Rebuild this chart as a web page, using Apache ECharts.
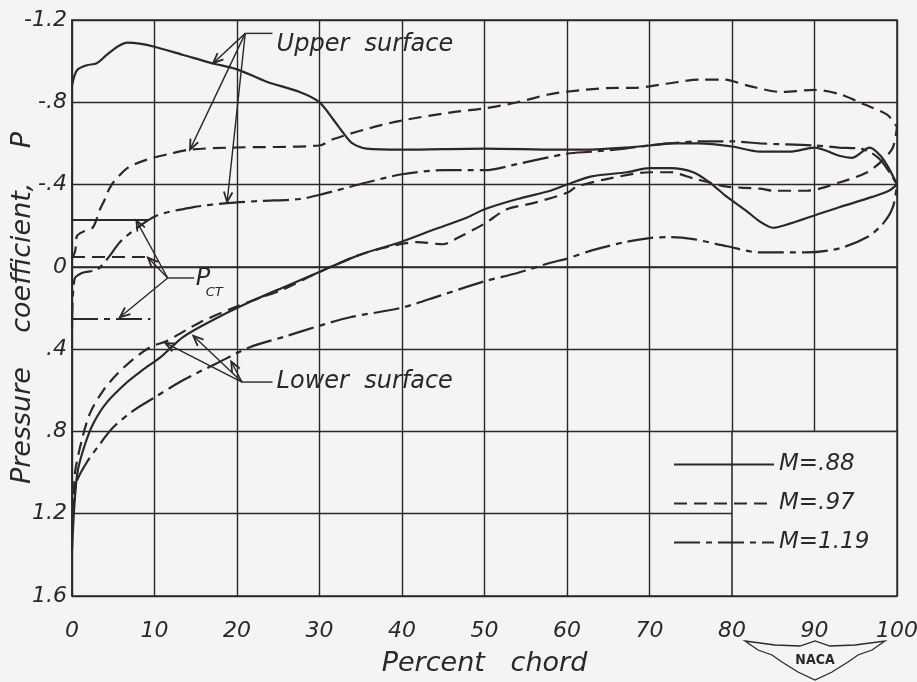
<!DOCTYPE html>
<html lang="en">
<head>
<meta charset="UTF-8" />
<title>Pressure coefficient vs percent chord</title>
<script src="https://cdn.jsdelivr.net/npm/echarts/dist/echarts.min.js"></script>
<style>
  html, body { margin: 0; padding: 0; background: #f4f4f3; }
  #chart { width: 917px; height: 682px; }
</style>
</head>
<body>
<div id="chart"></div>
<script>
const ink = '#2d2727';
const paper = '#f4f4f3';
const font = '"DejaVu Sans", "Liberation Sans", sans-serif';

// axis ticks
const yTicks = [-1.2, -0.8, -0.4, 0, 0.4, 0.8, 1.2, 1.6];
const yTickLabels = ['-1.2', '-.8', '-.4', '0', '.4', '.8', '1.2', '1.6'];
const mach = ['M=.88', 'M=.97', 'M=1.19'];

// M = .88 (solid)
const upper88 = [[0,-0.88],[0.3,-0.93],[0.7,-0.96],[1.8,-0.98],[3,-0.99],[4.2,-1.03],[5.5,-1.07],[6.7,-1.09],[8.2,-1.085],[10,-1.07],[13.5,-1.03],[17,-0.99],[20,-0.96],[23.6,-0.9],[27.6,-0.85],[30,-0.8],[31.6,-0.72],[32.9,-0.65],[34,-0.6],[35.7,-0.575],[40,-0.57],[50,-0.575],[59,-0.57],[63,-0.57],[67,-0.58],[70,-0.59],[72.5,-0.6],[76,-0.6],[80,-0.585],[83.4,-0.56],[87,-0.56],[90,-0.58],[93,-0.54],[94.5,-0.53],[96.7,-0.58],[98,-0.54],[99,-0.48],[100,-0.4]];
const lower88 = [[0,1.38],[0.3,1.15],[0.7,0.99],[1.6,0.86],[2.6,0.76],[4.2,0.66],[6.7,0.56],[8.6,0.5],[10.7,0.44],[13.5,0.34],[17.5,0.25],[21.6,0.17],[25.6,0.1],[29.7,0.03],[33.7,-0.04],[35.7,-0.07],[39.8,-0.12],[43.8,-0.18],[47.9,-0.24],[50,-0.28],[54,-0.33],[58,-0.37],[60,-0.4],[63,-0.44],[67.3,-0.46],[70,-0.48],[72.5,-0.48],[75.3,-0.46],[77.3,-0.41],[79.4,-0.34],[81.8,-0.27],[83.4,-0.22],[85,-0.19],[87,-0.21],[90,-0.25],[93,-0.29],[97,-0.34],[99,-0.37],[100,-0.4]];

// M = .97 (dashed)
const upper97 = [[0,-0.04],[0.4,-0.08],[0.6,-0.15],[1.3,-0.17],[2.5,-0.19],[3.4,-0.28],[4,-0.33],[4.4,-0.37],[5,-0.41],[6.7,-0.48],[9,-0.52],[11.9,-0.55],[14.3,-0.57],[19.5,-0.58],[30,-0.59],[31.6,-0.62],[35.7,-0.67],[39.8,-0.71],[45.8,-0.75],[50,-0.77],[54,-0.8],[58,-0.84],[62,-0.86],[66,-0.87],[68,-0.87],[72,-0.89],[76,-0.91],[79,-0.91],[82,-0.88],[86,-0.85],[90,-0.86],[93,-0.84],[96,-0.79],[98.8,-0.74],[100,-0.68]];
const lower97 = [[0,1.3],[0.2,1.12],[0.4,0.99],[1.2,0.84],[2.2,0.71],[3.8,0.6],[5.5,0.52],[7.4,0.45],[9.5,0.39],[11.5,0.36],[15.5,0.27],[19.5,0.2],[22.8,0.15],[25.6,0.11],[29.7,0.03],[33.7,-0.04],[35.7,-0.07],[39.8,-0.11],[41.8,-0.12],[45,-0.11],[46.7,-0.14],[50,-0.21],[52.7,-0.28],[55.9,-0.31],[60,-0.36],[61.2,-0.39],[65.2,-0.43],[70,-0.46],[72.5,-0.46],[75.3,-0.43],[77.3,-0.41],[79.4,-0.39],[83.4,-0.38],[85,-0.37],[89,-0.37],[93,-0.41],[96.4,-0.46],[98.3,-0.52],[99.5,-0.58],[100,-0.68]];

// M = 1.19 (dash-dot)
const upper119 = [[0,0.3],[0.3,0.06],[1.2,0.03],[2.5,0.02],[3.2,0.01],[4.5,-0.05],[5.8,-0.12],[7.9,-0.19],[10.3,-0.25],[14.7,-0.29],[18.8,-0.31],[22.8,-0.32],[27.6,-0.33],[30,-0.35],[35.7,-0.41],[40,-0.45],[45,-0.47],[50,-0.47],[54,-0.5],[60,-0.55],[63,-0.56],[67,-0.575],[70,-0.59],[72.5,-0.6],[76,-0.61],[80,-0.61],[83.4,-0.6],[90,-0.59],[93,-0.58],[96,-0.57],[98,-0.52],[100,-0.4]];
const lower119 = [[0,1.25],[0.3,1.12],[0.6,1.04],[1.8,0.95],[3.4,0.86],[5,0.78],[7.4,0.7],[9.8,0.64],[13.5,0.55],[17.5,0.47],[21.6,0.39],[25.7,0.34],[29.7,0.29],[33.7,0.245],[39.8,0.2],[44.6,0.14],[50,0.07],[54,0.03],[58,-0.02],[60,-0.04],[63,-0.08],[67,-0.12],[70,-0.14],[72.5,-0.145],[75.3,-0.135],[79.4,-0.1],[83.4,-0.07],[89,-0.07],[93,-0.09],[96.4,-0.145],[98.3,-0.21],[99.5,-0.29],[100,-0.4]];

// critical pressure coefficient P_CT for each Mach number
const pctValues = [-0.23, -0.05, 0.25];
const pctEnds = [9.3, 9.7, 9.5];

const lineTypes = ['solid', [13, 7], [26, 6, 6, 6]];

function curve(i, data, withPct) {
  const s = {
    name: mach[i], type: 'line', data: data, smooth: 0.3,
    symbol: 'none', showSymbol: false, animation: false, silent: true,
    lineStyle: { color: ink, width: 2.2, type: lineTypes[i] },
    itemStyle: { color: ink },
    z: 3
  };
  if (withPct) {
    s.markLine = {
      silent: true, animation: false, symbol: ['none', 'none'], label: { show: false },
      lineStyle: { color: ink, width: 2, type: lineTypes[i] },
      data: [[{ coord: [0, pctValues[i]] }, { coord: [pctEnds[i], pctValues[i]] }]]
    };
  }
  return s;
}

const series = [
  curve(0, upper88, true), curve(0, lower88, false),
  curve(1, upper97, true), curve(1, lower97, false),
  curve(2, upper119, true), curve(2, lower119, false)
];
// white legend box in lower right
series[1].markArea = {
  silent: true, animation: false,
  itemStyle: { color: paper, borderColor: ink, borderWidth: 1.5 },
  data: [[{ coord: [80, 0.8] }, { coord: [100, 1.6] }]]
};

const chart = echarts.init(document.getElementById('chart'));
const option = {
  backgroundColor: paper,
  animation: false,
  grid: {
    left: 72, right: 20, top: 20, bottom: 86, containLabel: false, outerBoundsMode: 'none',
    show: true, borderColor: ink, borderWidth: 1.5, backgroundColor: 'transparent'
  },
  legend: {
    data: mach, orient: 'vertical', left: 668, top: 448,
    itemWidth: 100, itemHeight: 14, itemGap: 16, selectedMode: false,
    itemStyle: { opacity: 0 },
    textStyle: { fontFamily: font, fontStyle: 'italic', fontSize: 23, color: ink }
  },
  xAxis: {
    type: 'value', min: 0, max: 100, interval: 10,
    name: 'Percent   chord', nameLocation: 'middle', nameGap: 54,
    nameTextStyle: { fontFamily: font, fontStyle: 'italic', fontSize: 27, color: ink },
    axisLine: { lineStyle: { color: ink, width: 1.5 } },
    axisTick: { show: false },
    axisLabel: { margin: 24, fontFamily: font, fontStyle: 'italic', fontSize: 22, color: ink },
    splitLine: { lineStyle: { color: ink, width: 1.4 } }
  },
  yAxis: {
    type: 'value', inverse: true, min: -1.2, max: 1.6, interval: 0.4,
    name: 'Pressure    coefficient,    P', nameLocation: 'middle', nameGap: 36, nameMoveOverlap: false,
    nameTextStyle: { fontFamily: font, fontStyle: 'italic', fontSize: 27, color: ink },
    axisLine: { lineStyle: { color: ink, width: 1.5 } },
    axisTick: { show: false },
    axisLabel: {
      margin: 5, fontFamily: font, fontStyle: 'italic', fontSize: 22, color: ink,
      formatter: function (v) {
        let best = 0;
        yTicks.forEach(function (t, k) { if (Math.abs(t - v) < Math.abs(yTicks[best] - v)) best = k; });
        return yTickLabels[best];
      }
    },
    splitLine: { lineStyle: { color: ink, width: 1.4 } }
  },
  series: series
};
chart.setOption(option);

// annotations (positions in chart coordinates)
const px = function (x, y) { return chart.convertToPixel({ gridIndex: 0 }, [x, y]); };
const graphics = [];
function seg(a, b, w) {
  const p = px(a[0], a[1]), q = px(b[0], b[1]);
  graphics.push({ type: 'line', z: 10, silent: true, shape: { x1: p[0], y1: p[1], x2: q[0], y2: q[1] }, style: { stroke: ink, lineWidth: w || 1.4 } });
}
function arrow(a, b) {
  seg(a, b);
  const p = px(a[0], a[1]), q = px(b[0], b[1]);
  const ang = Math.atan2(q[1] - p[1], q[0] - p[0]);
  const L = 11, w = 0.4;
  const p1 = [q[0] - L * Math.cos(ang - w), q[1] - L * Math.sin(ang - w)];
  const p2 = [q[0] - L * Math.cos(ang + w), q[1] - L * Math.sin(ang + w)];
  graphics.push({ type: 'polyline', z: 10, silent: true, shape: { points: [p1, q, p2] }, style: { stroke: ink, lineWidth: 1.8, fill: null } });
}
function label(text, at, size, align) {
  const p = px(at[0], at[1]);
  graphics.push({ type: 'text', z: 10, silent: true, x: p[0], y: p[1], style: {
    text: text, fill: ink, font: 'italic ' + size + 'px ' + font, textAlign: align || 'left', textVerticalAlign: 'middle'
  } });
}

// Upper surface
const upOrigin = [21.0, -1.135];
seg(upOrigin, [24.3, -1.135]);
arrow(upOrigin, [17.1, -0.99]);
arrow(upOrigin, [14.3, -0.57]);
arrow(upOrigin, [18.8, -0.315]);
label('Upper  surface', [24.8, -1.08], 24);

// P_CT
const pctOrigin = [11.6, 0.054];
seg(pctOrigin, [14.8, 0.054]);
arrow(pctOrigin, [7.8, -0.225]);
arrow(pctOrigin, [9.2, -0.045]);
arrow(pctOrigin, [5.8, 0.245]);
label('P', [15.0, 0.06], 24);
label('CT', [16.2, 0.125], 13);

// Lower surface
const lowOrigin = [20.6, 0.56];
seg(lowOrigin, [24.3, 0.56]);
arrow(lowOrigin, [11.3, 0.37]);
arrow(lowOrigin, [14.7, 0.335]);
arrow(lowOrigin, [19.3, 0.46]);
label('Lower  surface', [24.8, 0.56], 24);

// NACA emblem
graphics.push({
  type: 'polygon', z: 10, silent: true,
  shape: { points: [[745,641],[775,645],[800,646],[815,641],[830,646],[855,645],[885,641],[872,650],[858,655],[848,662],[832,672],[815,680],[798,672],[782,662],[772,655],[758,650]] },
  style: { stroke: ink, lineWidth: 1.3, fill: paper }
});
graphics.push({ type: 'text', z: 11, silent: true, x: 815, y: 660, style: { text: 'NACA', fill: ink, font: 'bold 14px "DejaVu Sans Condensed", ' + font, textAlign: 'center', textVerticalAlign: 'middle' } });

chart.setOption({ graphic: graphics });
</script>
</body>
</html>
